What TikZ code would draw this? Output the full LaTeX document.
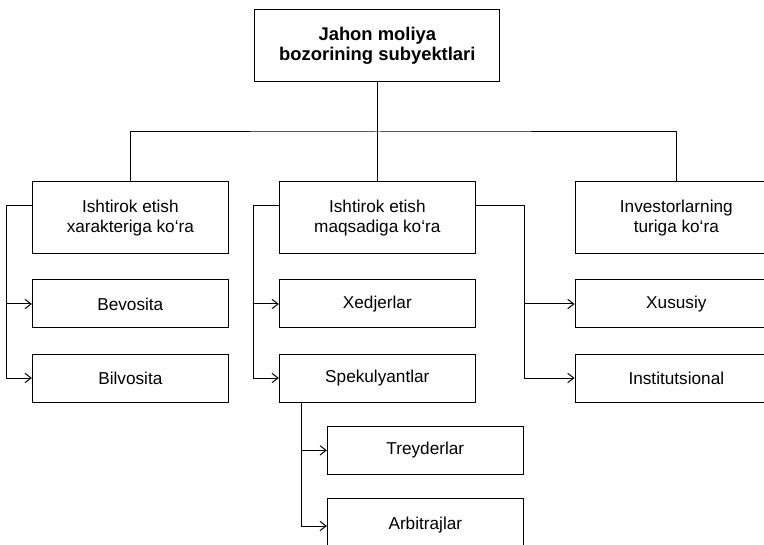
\documentclass[tikz,border=0pt]{standalone}
\usepackage{fontspec}
\setmainfont{Liberation Sans}
\usepackage{tikz}
\usetikzlibrary{arrows.meta,positioning,calc}

\begin{document}
\begin{tikzpicture}[node distance=18.75pt and 37.5pt, line width=0.75pt,
  catbox/.style={draw, minimum width=147pt, minimum height=54pt, align=center,
    inner sep=2pt, font=\fontsize{12.9}{14.6}\selectfont},
  leafbox/.style={catbox, minimum height=36pt},
  widebox/.style={minimum width=152pt},
  arr/.style={-{Straight Barb[length=4.5pt,width=7pt]}}]
  \useasboundingbox (0,0) rectangle (573pt,-408.75pt);
  \clip (0,0) rectangle (573pt,-408.75pt);
  \node[draw, minimum width=183.75pt, minimum height=54pt, align=center,
    font=\fontsize{13.8}{15.4}\selectfont\bfseries] (top) at (283pt,-34.5pt)
    {Jahon moliya\\bozorining subyektlari};
  % categories
  \node[catbox, below=74.25pt of top] (maqsad) {Ishtirok etish\\maqsadiga ko‘ra};
  \node[catbox, left=of maqsad] (xarakter) {Ishtirok etish\\xarakteriga ko‘ra};
  \node[catbox, widebox, right=74pt of maqsad] (investor) {Investorlarning\\turiga ko‘ra};
  % leaves
  \node[leafbox, below=of xarakter] (bevosita) {Bevosita};
  \node[leafbox, below=of bevosita] (bilvosita) {Bilvosita};
  \node[leafbox, below=of maqsad] (xedjer) {Xedjerlar};
  \node[leafbox, below=of xedjer] (spekul) {Spekulyantlar};
  \node[leafbox, below=17.5pt of spekul, xshift=36pt] (treyder) {Treyderlar};
  \node[leafbox, minimum height=39pt, below=17.5pt of treyder] (arbitraj) {Arbitrajlar};
  \node[leafbox, widebox, below=of investor] (xususiy) {Xususiy};
  \node[leafbox, widebox, below=of xususiy] (instit) {Institutsional};
  % tree
  \coordinate (bus) at ($(top.south)!.5!(maqsad.north)$);
  \draw (top.south) -- (maqsad.north);
  \draw (xarakter.north) |- (bus) -| (investor.north);
  \draw[arr] ([yshift=-18pt]xarakter.north west) -| ([xshift=-18.75pt]bilvosita.west) -- (bilvosita.west);
  \draw[arr] ([xshift=-18.75pt]bevosita.west) -- (bevosita.west);
  \draw[arr] ([yshift=-18pt]maqsad.north west) -| ([xshift=-18.75pt]spekul.west) -- (spekul.west);
  \draw[arr] ([xshift=-18.75pt]xedjer.west) -- (xedjer.west);
  \draw[arr] ([yshift=-18pt]maqsad.north east) -| ([xshift=-37.5pt]instit.west) -- (instit.west);
  \draw[arr] ([xshift=-37.5pt]xususiy.west) -- (xususiy.west);
  \draw[arr] ([xshift=17.25pt]spekul.south west) |- ([yshift=-1pt]arbitraj.west);
  \draw[arr] ([xshift=17.25pt]spekul.south west |- treyder.west) -- (treyder.west);
\end{tikzpicture}
\end{document}
